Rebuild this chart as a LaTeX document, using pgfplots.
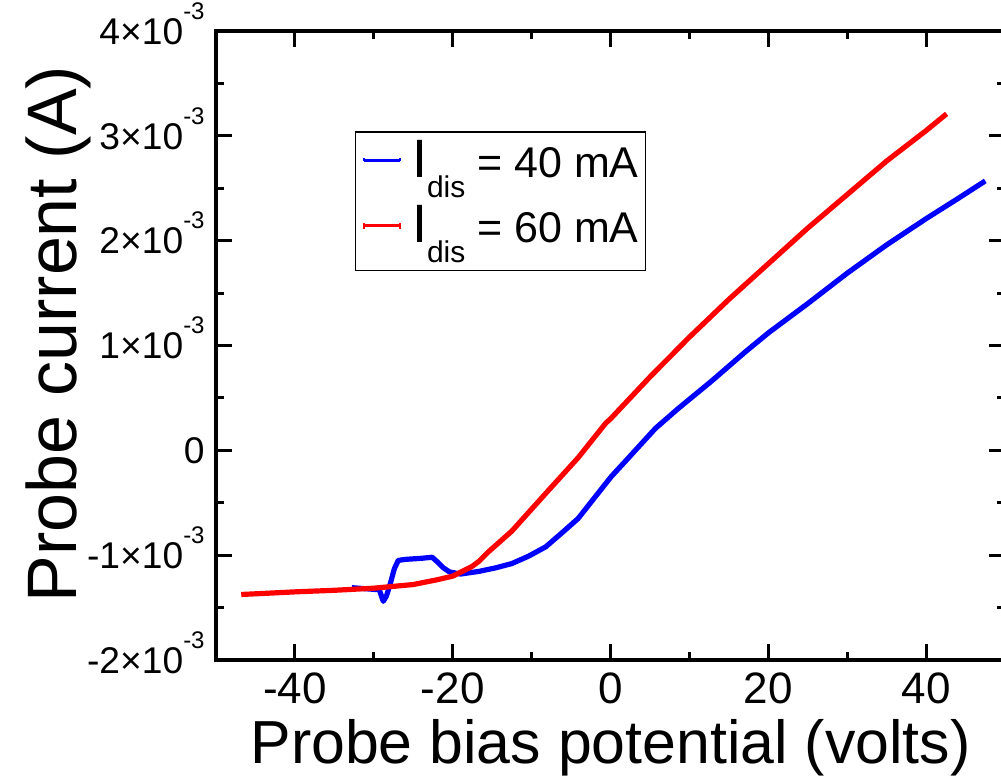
\documentclass[border=0pt]{standalone}
\usepackage{fontspec}
\setmainfont{Liberation Sans}
\usepackage{pgfplots}
\pgfplotsset{compat=1.18}

% y tick label: n x 10^-3
\newcommand{\ytl}[1]{#1×10\raisebox{12.5pt}{\fontsize{12}{12}\selectfont -3}}
\newcommand{\idis}[1]{{\fontsize{27}{27}\selectfont I}\raisebox{-10pt}{\fontsize{15}{15}\selectfont dis} = #1 mA}

\begin{document}
\begin{tikzpicture}
\begin{axis}[name=ax, scale only axis, width=394.5pt, height=314.5pt,
  xmin=-50, xmax=50, ymin=-2e-3, ymax=4e-3,
  xtick={-40,-20,0,20,40}, xticklabels={-40,-20,0,20,40},
  minor x tick num=1,
  ytick={-2e-3,-1e-3,0,1e-3,2e-3,3e-3,4e-3},
  yticklabels={\ytl{-2},\ytl{-1},0,\ytl{1},\ytl{2},\ytl{3},\ytl{4}},
  minor y tick num=1, scaled y ticks=false, scaled x ticks=false,
  tick align=inside, major tick length=8pt, minor tick length=4pt,
  every tick/.style={black, line width=1.5pt},
  axis line style={line width=2.2pt},
  xticklabel style={font=\fontsize{22}{22}\selectfont, anchor=north, inner sep=0pt, yshift=-6pt},
  yticklabel style={font=\fontsize{18.6}{18.6}\selectfont, anchor=base east, inner sep=0pt, xshift=-5.5pt, yshift=-6.65pt},
  xlabel={Probe bias potential (volts)},
  xlabel style={font=\fontsize{30.4}{30.4}\selectfont, at={(axis description cs:0.5,-0.1638)}, anchor=base},
  ylabel={Probe current (A)},
  ylabel style={font=\fontsize{35}{35}\selectfont, at={(axis description cs:-0.1762,0.518)}, anchor=base},
  legend cell align=left,
  legend style={at={(0.176,0.841)}, anchor=north west, draw=black, line width=0.8pt,
    inner xsep=3.5pt, inner ysep=3.5pt, row sep=2.7pt,
    font=\fontsize{21.5}{21.5}\selectfont,
    nodes={inner sep=0pt, text height=19.3pt, text depth=10.5pt},
    /tikz/every odd column/.style={column sep=5.5pt}},
]
\addplot[blue, line width=2.6pt, line join=round,
  legend image code/.code={\draw[blue, line width=1.2pt] (0pt,4pt) -- (18pt,4pt) (0pt,4pt) -- (0pt,5.5pt) (18pt,4pt) -- (18pt,5.5pt);}]
coordinates {
(-32.8,-1.31e-3) (-29.3,-1.33e-3) (-28.8,-1.44e-3) (-28.4,-1.39e-3) (-27.9,-1.27e-3)
(-27.4,-1.13e-3) (-26.9,-1.05e-3) (-26,-1.04e-3) (-24,-1.03e-3) (-22.6,-1.02e-3)
(-22,-1.06e-3) (-21.2,-1.12e-3) (-20.4,-1.16e-3) (-19,-1.18e-3) (-16.7,-1.155e-3)
(-14.5,-1.12e-3) (-12.5,-1.08e-3) (-10.4,-1.01e-3) (-8.2,-0.92e-3) (-6.2,-0.79e-3)
(-4.1,-0.65e-3) (-1.9,-0.44e-3) (0.1,-0.25e-3) (2.3,-0.07e-3) (5.7,0.21e-3)
(8.6,0.40e-3) (12.8,0.66e-3) (17.1,0.94e-3) (20,1.12e-3) (25,1.40e-3)
(30,1.69e-3) (35,1.96e-3) (40,2.21e-3) (44,2.40e-3) (47.5,2.57e-3)
};
\addlegendentry{\idis{40}}
\addplot[red, line width=2.6pt, line join=round,
  legend image code/.code={\draw[red, line width=1.2pt] (0pt,4pt) -- (18pt,4pt) (0pt,2.5pt) -- (0pt,5.5pt) (18pt,2.5pt) -- (18pt,5.5pt);}]
coordinates {
(-46.8,-1.375e-3) (-44,-1.365e-3) (-40,-1.35e-3) (-35,-1.335e-3) (-30,-1.315e-3)
(-25,-1.28e-3) (-22,-1.235e-3) (-20,-1.20e-3) (-17.6,-1.11e-3) (-16.7,-1.06e-3)
(-15.5,-0.97e-3) (-12.5,-0.77e-3) (-8.2,-0.41e-3) (-4.1,-0.07e-3) (-0.6,0.26e-3)
(0,0.30e-3) (5,0.70e-3) (10,1.08e-3) (15,1.44e-3) (20,1.78e-3)
(25,2.12e-3) (30,2.44e-3) (35,2.76e-3) (40,3.05e-3) (42.6,3.21e-3)
};
\addlegendentry{\idis{60}}
\end{axis}
\pgfresetboundingbox
\path ([xshift=-108pt,yshift=-59pt]ax.south west) rectangle ++(500.5pt,389pt);
\end{tikzpicture}
\end{document}
